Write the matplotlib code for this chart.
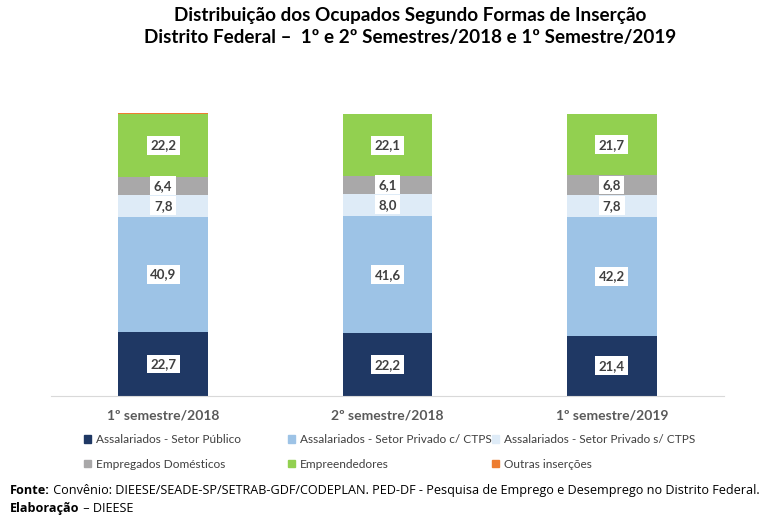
import matplotlib.pyplot as plt
import matplotlib.patches as mpatches
import numpy as np

plt.rcParams['font.family'] = ['Lato', 'DejaVu Sans']

# data (% of employed)
periods = ['1º semestre/2018', '2º semestre/2018', '1º semestre/2019']
publico = [22.7, 22.2, 21.4]
privado_com = [40.9, 41.6, 42.2]
privado_sem = [7.8, 8.0, 7.8]
domesticos = [6.4, 6.1, 6.8]
empreendedores = [22.2, 22.1, 21.7]
outras = [0.3, 0.0, 0.1]

series = [
  ('Assalariados - Setor Público', publico, '#1f3864', True),
  ('Assalariados - Setor Privado c/ CTPS', privado_com, '#9dc3e6', True),
  ('Assalariados - Setor Privado s/ CTPS', privado_sem, '#deebf7', True),
  ('Empregados Domésticos', domesticos, '#a9a8a9', True),
  ('Empreendedores', empreendedores, '#92d050', True),
  ('Outras inserções', outras, '#ed7d31', False),
]

W, H = 773, 520
fig = plt.figure(figsize=(W / 100, H / 100), dpi=100)
ax = fig.add_axes([51 / W, (H - 396) / H, (724 - 51) / W, (396 - 114) / H])

x = np.arange(len(periods))
bottom = np.zeros(len(periods))
handles = {}
for name, vals, color, labelled in series:
  vals = np.array(vals)
  ax.bar(x, vals, width=0.4, bottom=bottom, color=color, clip_on=False)
  handles[name] = mpatches.Patch(color=color)
  if labelled:
    for xi, b, v in zip(x, bottom, vals):
      ax.text(xi, b + v / 2, f'{v:.1f}'.replace('.', ','), ha='center', va='center',
              fontsize=9.5, fontweight='bold', color='#404040',
              bbox=dict(facecolor='white', edgecolor='none', pad=2.5))
  bottom += vals

ax.set_xlim(-0.5, 2.5)
ax.set_ylim(0, 100)
for s in ['top', 'right', 'left']:
  ax.spines[s].set_visible(False)
ax.spines['bottom'].set_color('#d9d9d9')
ax.set_yticks([])
ax.set_xticks(x)
ax.set_xticklabels(periods, fontsize=10, fontweight='bold', color='#595959')
ax.tick_params(axis='x', length=0, pad=10)

fig.text(0.53, 1 - 15 / H, 'Distribuição dos Ocupados Segundo Formas de Inserção',
         ha='center', va='center', fontsize=13.6, fontweight='bold', color='black')
fig.text(0.53, 1 - 38 / H, 'Distrito Federal –  1º e 2º Semestres/2018 e 1º Semestre/2019',
         ha='center', va='center', fontsize=13.6, fontweight='bold', color='black')

# legend laid out in three columns, row-major like the original
names = [s[0] for s in series]
col_x = [84, 288, 492]
for c in range(3):
  col_names = [names[c], names[c + 3]]
  fig.legend([handles[n] for n in col_names], col_names, loc='upper left',
             bbox_to_anchor=(col_x[c] / W, 1 - 434 / H), frameon=False,
             fontsize=8.6, labelcolor='#404040', handlelength=0.6, handleheight=0.6,
             handletextpad=0.4, labelspacing=1.15, borderpad=0, borderaxespad=0)

foot = dict(va='bottom', fontsize=9.1, family=['Open Sans', 'DejaVu Sans'])
t = fig.text(10 / W, 1 - 497 / H, 'Fonte:', ha='left', fontweight='bold', **foot)
ax.annotate(' Convênio: DIEESE/SEADE-SP/SETRAB-GDF/CODEPLAN. PED-DF - Pesquisa de Emprego e Desemprego no Distrito Federal.',
            xy=(1, 0), xycoords=t, ha='left', **foot)
t2 = fig.text(10 / W, 1 - 515 / H, 'Elaboração', ha='left', fontweight='bold', **foot)
ax.annotate(' – DIEESE', xy=(1, 0), xycoords=t2, ha='left', **foot)

fig.savefig('out.png', dpi=100)
